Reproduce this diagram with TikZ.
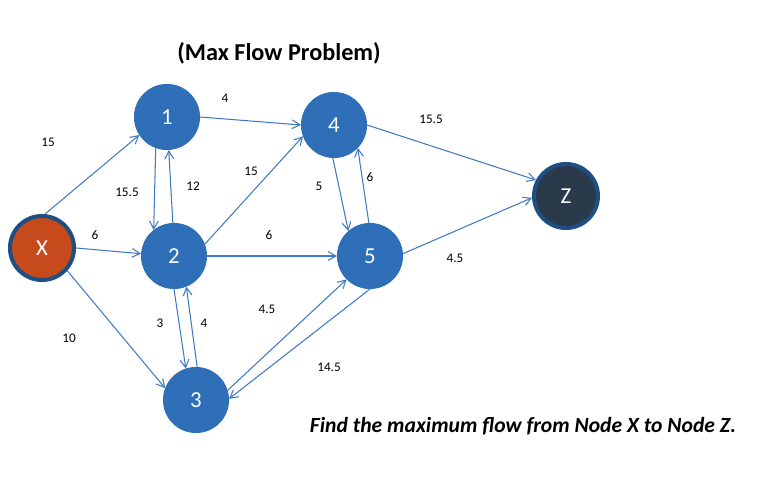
\documentclass[tikz,border=0pt]{standalone}
\usepackage{fontspec}
\setmainfont{Carlito}
\usepackage{tikz}
\usetikzlibrary{arrows.meta}
\definecolor{nodeblue}{HTML}{2E6FB7}
\definecolor{rimblue}{HTML}{1F4F82}
\definecolor{edgeblue}{HTML}{3F7BC4}
\definecolor{srcred}{HTML}{C64A1B}
\definecolor{sinkdark}{HTML}{2B3A4B}

\begin{document}
\begin{tikzpicture}[>={Straight Barb[length=4.5pt,width=5pt]},
  vtx/.style={circle,fill=nodeblue,draw=nodeblue,line width=0.6pt,minimum size=1.30cm,inner sep=0pt,
    text=white,font=\fontsize{13}{15}\selectfont},
  endvtx/.style={vtx,draw=rimblue,line width=2.3pt,minimum size=1.28cm},
  flow/.style={->,edgeblue,line width=0.6pt},
  capval/.style={font=\fontsize{7.5}{9}\selectfont}]
  \useasboundingbox (0,0) rectangle (15.5,9.7);
  % vertices
  \node[endvtx,fill=srcred] (x) at (0.84,4.74) {X};
  \node[vtx] (n1) at (3.34,7.36) {1};
  \node[vtx] (n2) at (3.48,4.58) {2};
  \node[vtx] (n3) at (3.92,1.70) {3};
  \node[vtx] (n4) at (6.68,7.20) {4};
  \node[vtx] (n5) at (7.40,4.58) {5};
  \node[endvtx,fill=sinkdark] (z) at (11.32,5.78) {Z};
  % arcs
  \draw[flow] (x.85) -- (n1.213);
  \draw[flow] (x.0) -- (n2.176);
  \draw[flow] (x.318) -- (n3.159);
  \draw[flow] (n1.0) -- (n4.180);
  \draw[flow] (n1.250) -- (n2.128);
  \draw[flow] (n2.92) -- (n1.273);
  \draw[flow] (n2.21) -- (n4.200);
  \draw[flow] (n2.0) -- (n5.180);
  \draw[flow] (n2.270) -- (n3.108);
  \draw[flow] (n3.88) -- (n2.292);
  \draw[flow] (n3.17) -- (n5.225);
  \draw[flow] (n5.270) -- (n3.2);
  \draw[flow] (n4.268) -- (n5.131);
  \draw[flow] (n5.92) -- (n4.316);
  \draw[flow] (n4.0) -- (z.152);
  \draw[flow] (n5.4) -- (z.183);
  % capacities
  \node[capval] (cx1) at (0.96,6.86) {15};
  \node[capval] (cx2) at (1.90,5.00) {6};
  \node[capval] (cx3) at (1.38,2.94) {10};
  \node[capval] (c14) at (4.50,7.74) {4};
  \node[capval] (c12) at (2.54,5.86) {15.5};
  \node[capval] (c21) at (3.86,5.98) {12};
  \node[capval] (c24) at (5.02,6.28) {15};
  \node[capval] (c25) at (5.38,5.00) {6};
  \node[capval] (c23) at (3.20,3.24) {3};
  \node[capval] (c32) at (4.08,3.24) {4};
  \node[capval] (c35) at (5.34,3.52) {4.5};
  \node[capval] (c53) at (6.58,2.36) {14.5};
  \node[capval] (c45) at (6.38,5.98) {5};
  \node[capval] (c54) at (7.40,6.16) {6};
  \node[capval] (c4z) at (8.62,7.32) {15.5};
  \node[capval] (c5z) at (9.10,4.54) {4.5};
  % texts
  \node[font=\fontsize{13.8}{16}\selectfont\bfseries] (title) at (5.58,8.64) {(Max Flow Problem)};
  \node[font=\fontsize{12.3}{15}\selectfont\bfseries\itshape] (task) at (10.46,1.18) {Find the maximum flow from Node X to Node Z.};
\end{tikzpicture}
\end{document}
